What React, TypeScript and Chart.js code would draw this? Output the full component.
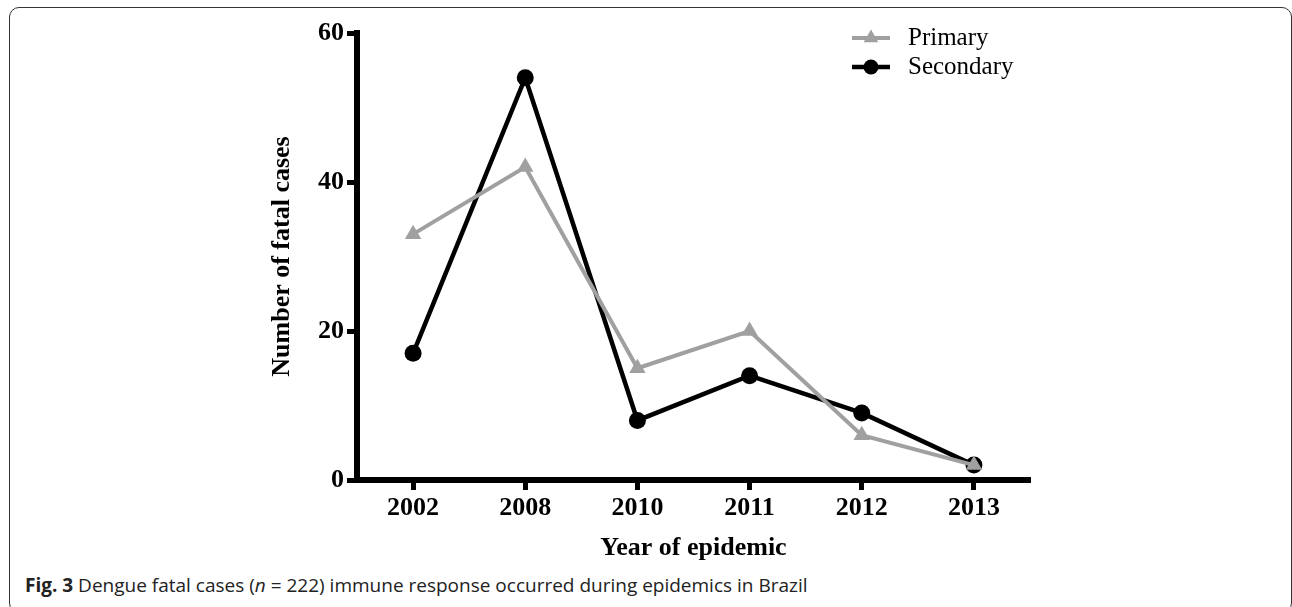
import React, { useEffect, useRef } from "react";
import { Chart, registerables } from "chart.js";

Chart.register(...registerables);

// ---- data ----
const years = ["2002", "2008", "2010", "2011", "2012", "2013"];
const primaryCases = [33, 42, 15, 20, 6, 2];
const secondaryCases = [17, 54, 8, 14, 9, 2];
const yTickValues = [0, 20, 40, 60];
const seriesNames = ["Primary", "Secondary"];
const yAxisTitle = "Number of fatal cases";
const xAxisTitle = "Year of epidemic";

const SERIF = "'Liberation Serif', 'Times New Roman', Times, serif";
const GRAY = "#a0a0a0";

const W = 1292;
const H = 570;

const cornerLegend = {
  id: "cornerLegend",
  afterDraw(chart: any) {
    const ctx = chart.ctx as CanvasRenderingContext2D;
    ctx.save();
    chart.data.datasets.forEach((ds: any, i: number) => {
      const y = 38 + i * 29;
      ctx.strokeStyle = ds.borderColor;
      ctx.fillStyle = ds.backgroundColor;
      ctx.lineWidth = ds.borderWidth;
      ctx.beginPath();
      ctx.moveTo(852, y);
      ctx.lineTo(890, y);
      ctx.stroke();
      const cx = 871;
      if (ds.pointStyle === "triangle") {
        const r = 8.5;
        let rad = 0;
        ctx.beginPath();
        ctx.moveTo(cx + Math.sin(rad) * r, y - Math.cos(rad) * r);
        rad += (2 * Math.PI) / 3;
        ctx.lineTo(cx + Math.sin(rad) * r, y - Math.cos(rad) * r);
        rad += (2 * Math.PI) / 3;
        ctx.lineTo(cx + Math.sin(rad) * r, y - Math.cos(rad) * r);
        ctx.closePath();
        ctx.fill();
      } else {
        ctx.beginPath();
        ctx.arc(cx, y, 7.5, 0, Math.PI * 2);
        ctx.fill();
      }
      ctx.fillStyle = "#000";
      ctx.font = `25px ${SERIF}`;
      ctx.textBaseline = "alphabetic";
      ctx.textAlign = "left";
      ctx.fillText(ds.label, 908, y + 7);
    });
    ctx.restore();
  },
};

export default function App() {
  const ref = useRef<HTMLCanvasElement | null>(null);

  useEffect(() => {
    if (!ref.current) return;
    const tickFont = { family: SERIF, size: 26, weight: "bold" as const };
    const chart = new Chart(ref.current, {
      type: "line",
      data: {
        labels: years,
        datasets: [
          {
            label: seriesNames[0],
            data: primaryCases,
            borderColor: GRAY,
            backgroundColor: GRAY,
            borderWidth: 4,
            pointStyle: "triangle",
            pointRadius: 9.5,
            pointBorderWidth: 0,
            tension: 0,
            clip: false as any,
          },
          {
            label: seriesNames[1],
            data: secondaryCases,
            borderColor: "#000000",
            backgroundColor: "#000000",
            borderWidth: 4.5,
            pointStyle: "circle",
            pointRadius: 8.5,
            pointBorderWidth: 0,
            tension: 0,
            clip: false as any,
          },
        ],
      },
      options: {
        responsive: false,
        animation: false,
        layout: { padding: { left: 267, top: 33, right: 262, bottom: H - 480 - 83.6 } },
        plugins: {
          legend: { display: false },
          tooltip: { enabled: false },
        },
        scales: {
          x: {
            offset: true,
            grid: {
              display: true,
              drawOnChartArea: false,
              drawTicks: true,
              tickLength: 10,
              tickWidth: 5,
              tickColor: "#000",
              color: "#000",
              offset: false,
            },
            border: { display: true, width: 6, color: "#000" },
            ticks: { font: tickFont, color: "#000", padding: 3, maxRotation: 0 },
            title: {
              display: true,
              text: xAxisTitle,
              font: tickFont,
              color: "#000",
              padding: 0,
            },
            afterFit(s: any) {
              s.height = 83.6;
            },
          },
          y: {
            min: 0,
            max: 60,
            grid: {
              display: true,
              drawOnChartArea: false,
              drawTicks: true,
              tickLength: 10,
              tickWidth: 5,
              tickColor: "#000",
              color: "#000",
            },
            border: { display: true, width: 6, color: "#000" },
            ticks: { font: tickFont, color: "#000", padding: 3, stepSize: 20 },
            afterBuildTicks(s: any) {
              s.ticks = yTickValues.map((v) => ({ value: v }));
            },
            title: {
              display: true,
              text: yAxisTitle,
              font: tickFont,
              color: "#000",
              padding: 0,
            },
            afterFit(s: any) {
              s.width = 90;
            },
          },
        },
      },
      plugins: [cornerLegend],
    });
    return () => chart.destroy();
  }, []);

  return (
    <div style={{ position: "fixed", left: 0, top: 0, width: W, height: 607, background: "#fff", overflow: "hidden" }}>
      <div
        style={{
          position: "absolute",
          left: 9,
          top: 7,
          width: 1283,
          height: 606,
          border: "1.5px solid #333",
          borderRadius: 10,
          boxSizing: "border-box",
        }}
      />
      <canvas
        ref={ref}
        width={W}
        height={H}
        style={{ position: "absolute", left: 0, top: 0, width: W, height: H }}
      />
      <div
        style={{
          position: "absolute",
          left: 25,
          top: 576,
          fontFamily: "'Open Sans', 'Noto Sans', sans-serif",
          fontSize: 19,
          lineHeight: "19px",
          color: "#222",
          whiteSpace: "nowrap",
        }}
      >
        <b>Fig. 3</b> Dengue fatal cases (<i>n</i> = 222) immune response occurred during epidemics in Brazil
      </div>
    </div>
  );
}
